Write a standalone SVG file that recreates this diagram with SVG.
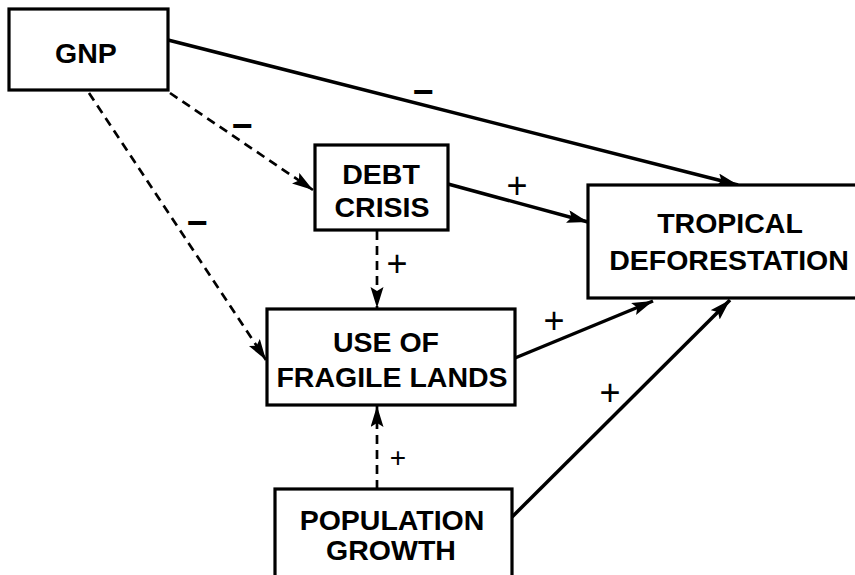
<svg xmlns="http://www.w3.org/2000/svg" width="855" height="575" viewBox="0 0 855 575">
<style>
.box{fill:#fff;stroke:#000;stroke-width:3.2}
.lbl{font-family:"Liberation Sans",Arial,sans-serif;font-weight:bold;font-size:28.5px;text-anchor:middle;fill:#000}
.sign{font-family:"Liberation Sans",Arial,sans-serif;font-size:36px;text-anchor:middle;fill:#000}
.minus{font-family:"Liberation Sans",Arial,sans-serif;font-size:36px;font-weight:bold;text-anchor:middle;fill:#000}
.solid{fill:none;stroke:#000;stroke-width:3.5;marker-end:url(#ah)}
.dash{fill:none;stroke:#000;stroke-width:2.7;stroke-dasharray:9 6;marker-end:url(#ah)}
</style>
<defs>
<marker id="ah" markerUnits="userSpaceOnUse" markerWidth="24" markerHeight="14" refX="21" refY="6.5" orient="auto">
<path d="M0,0 L21,6.5 L0,13 L4,6.5 Z" fill="#000"/>
</marker>
</defs>
<g id="connectors">
<path class="solid" d="M168,40 L738,185"/>
<path class="dash" d="M170,93 L313,190"/>
<path class="dash" d="M89,93 L266,360"/>
<path class="solid" d="M448,184 L588,222"/>
<path class="dash" d="M377,231 L377,308"/>
<path class="solid" d="M515,358 L653,301"/>
<path class="solid" d="M512,517 L730,300"/>
<path class="dash" d="M377,489 L377,406"/>
<text class="minus" x="423" y="104">−</text>
<text class="minus" x="242" y="138">−</text>
<text class="minus" x="197" y="235">−</text>
<text class="sign" x="517" y="198">+</text>
<text class="sign" x="397" y="276">+</text>
<text class="sign" x="554" y="333">+</text>
<text class="sign" x="610" y="405">+</text>
<text class="sign" x="398" y="467" style="font-size:28px">+</text>
</g>
<g id="gnp">
<rect class="box" x="9" y="9" width="159" height="81"/>
<text class="lbl" x="86" y="63">GNP</text>
</g>
<g id="debt">
<rect class="box" x="315" y="145" width="133" height="85"/>
<text class="lbl" x="381" y="184">DEBT</text>
<text class="lbl" x="382" y="217">CRISIS</text>
</g>
<g id="tropical">
<rect class="box" x="588" y="185" width="290" height="113"/>
<text class="lbl" x="730" y="233">TROPICAL</text>
<text class="lbl" x="729" y="270">DEFORESTATION</text>
</g>
<g id="use">
<rect class="box" x="267" y="309" width="248" height="96"/>
<text class="lbl" x="386" y="352">USE OF</text>
<text class="lbl" x="392" y="387">FRAGILE LANDS</text>
</g>
<g id="population">
<rect class="box" x="275" y="489" width="237" height="100"/>
<text class="lbl" x="392" y="530">POPULATION</text>
<text class="lbl" x="391" y="560">GROWTH</text>
</g>
</svg>
